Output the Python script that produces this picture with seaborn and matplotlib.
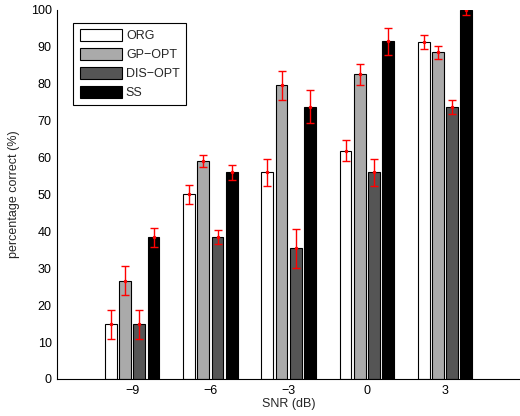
import numpy as np
import pandas as pd
import matplotlib
matplotlib.use('Agg')
import matplotlib.pyplot as plt
import seaborn as sns

# data
snr = ['\u22129', '\u22126', '\u22123', '0', '3']
methods = ['ORG', 'GP\u2212OPT', 'DIS\u2212OPT', 'SS']
org = [14.8, 50.1, 56.0, 61.9, 91.3]
gp_opt = [26.6, 59.0, 79.6, 82.6, 88.5]
dis_opt = [14.8, 38.4, 35.4, 56.0, 73.7]
ss = [38.4, 56.0, 73.8, 91.5, 100.0]
err_org = [4.0, 2.6, 3.6, 2.9, 1.9]
err_gp = [3.9, 1.6, 3.9, 2.8, 1.8]
err_dis = [4.0, 1.9, 5.3, 3.7, 1.8]
err_ss = [2.5, 2.0, 4.5, 3.7, 1.4]

values = [org, gp_opt, dis_opt, ss]
errors = [err_org, err_gp, err_dis, err_ss]

df = pd.DataFrame({
    'SNR': snr * len(methods),
    'method': [m for m in methods for _ in snr],
    'score': [v for vals in values for v in vals],
})

sns.set_style('white')
plt.rcParams['font.family'] = ['Liberation Sans', 'DejaVu Sans']
plt.rcParams['font.size'] = 9

fig = plt.figure(figsize=(5.2, 4.16), dpi=100)
ax = fig.add_axes([0.11, 0.089, 0.89, 0.887])

sns.barplot(data=df, x='SNR', y='score', hue='method', order=snr, hue_order=methods,
            palette=['white', '#aaaaaa', '#555555', 'black'], width=0.725, gap=0.17,
            edgecolor='black', linewidth=0.8, saturation=1, errorbar=None, ax=ax)

# error bars placed on the bars seaborn drew
for cont, errs in zip(ax.containers, errors):
    xs = [b.get_x() + b.get_width() / 2 for b in cont]
    ys = [b.get_height() for b in cont]
    ax.errorbar(xs, ys, yerr=errs, fmt='.', color='red', ms=3,
                elinewidth=1, capsize=3, capthick=1, zorder=5)

ax.set_ylim(0, 100)
ax.set_xlim(-0.96, 4.96)
ax.set_yticks(np.arange(0, 101, 10))
ax.set_xlabel('SNR (dB)', labelpad=1)
ax.set_ylabel('percentage correct (%)', labelpad=8)
ax.tick_params(direction='in', length=3, width=0.8, colors='black', labelsize=9, pad=4)

for side in ['top', 'right']:
    ax.spines[side].set_visible(False)
for side in ['left', 'bottom']:
    ax.spines[side].set_color('black')
    ax.spines[side].set_linewidth(0.8)

leg = ax.legend(loc='upper left', bbox_to_anchor=(0.035, 0.965), borderaxespad=0,
                fancybox=False, framealpha=1, edgecolor='black', fontsize=9,
                handlelength=3.4, handleheight=1.1, handletextpad=0.3,
                labelspacing=0.45, borderpad=0.5, title=None)
leg.get_frame().set_linewidth(0.8)

plt.savefig('out.png', dpi=100)
